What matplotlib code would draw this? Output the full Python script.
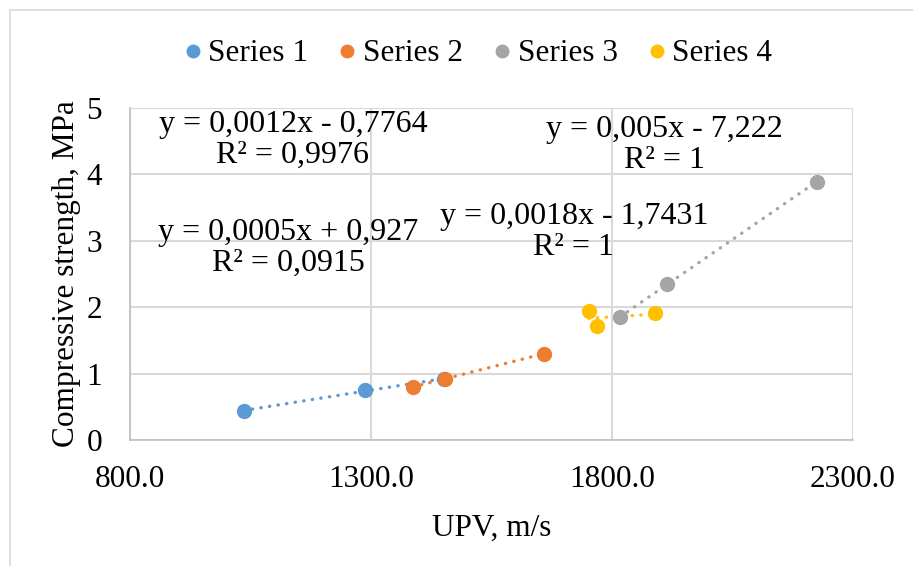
import matplotlib.pyplot as plt
from matplotlib.lines import Line2D

plt.rcParams['font.family'] = ['Liberation Serif', 'DejaVu Serif']

# UPV (m/s) vs compressive strength (MPa)
s1_x = [1036, 1288, 1452]
s1_y = [0.44, 0.75, 0.92]
s2_x = [1387, 1453, 1659]
s2_y = [0.80, 0.92, 1.30]
s3_x = [1817, 1914, 2225]
s3_y = [1.85, 2.35, 3.89]
s4_x = [1752, 1769, 1889]
s4_y = [1.94, 1.72, 1.91]

names = ['Series 1', 'Series 2', 'Series 3', 'Series 4']
colors = ['#5B9BD5', '#ED7D31', '#A5A5A5', '#FFC000']

# trendline equations as printed on the chart
eq_text = ['y = 0,0012x - 0,7764\nR² = 0,9976',
           'y = 0,0018x - 1,7431\nR² = 1',
           'y = 0,005x - 7,222\nR² = 1',
           'y = 0,0005x + 0,927\nR² = 0,0915']
eq_pos = [(1138, 4.52), (1721, 3.13), (1908, 4.44), (1128, 2.89)]

fig = plt.figure(figsize=(9.13, 5.66), dpi=100)
ax = fig.add_axes([0.1424, 0.2226, 0.7919, 0.5866])

data = [(s1_x, s1_y), (s2_x, s2_y), (s3_x, s3_y), (s4_x, s4_y)]
for (xs, ys), c, n in zip(data, colors, names):
    # linear trendline over the range of the series
    n_pts = len(xs)
    mx = sum(xs) / n_pts
    my = sum(ys) / n_pts
    b = sum((a - mx) * (v - my) for a, v in zip(xs, ys)) / sum((a - mx) ** 2 for a in xs)
    a0 = my - b * mx
    x0, x1 = min(xs), max(xs)
    ax.plot([x0, x1], [a0 + b * x0, a0 + b * x1], color=c, lw=2.4,
            linestyle=(0, (0.1, 2.5)), dash_capstyle='round', zorder=2)
for (xs, ys), c, n in zip(data, colors, names):
    ax.plot(xs, ys, 'o', color=c, ms=10, label=n, zorder=3)

for t, (px, py) in zip(eq_text, eq_pos):
    ax.text(px, py, t, ha='center', va='center', fontsize=23,
            linespacing=1.1, zorder=4)

ax.set_xlim(800, 2300)
ax.set_ylim(0, 5)
ax.set_xticks([800, 1300, 1800, 2300])
ax.set_xticklabels(['800.0', '1300.0', '1800.0', '2300.0'])
ax.set_yticks([0, 1, 2, 3, 4, 5])
ax.tick_params(length=0, labelsize=22.5)
ax.tick_params(axis='x', pad=18)
ax.tick_params(axis='y', pad=20)
ax.grid(True, color='#D9D9D9', lw=1.5)
ax.set_axisbelow(True)
for side in ['top', 'right']:
    ax.spines[side].set_visible(False)
for side in ['left', 'bottom']:
    ax.spines[side].set_color('#BFBFBF')
    ax.spines[side].set_linewidth(1.2)

ax.set_xlabel('UPV, m/s', fontsize=22.5, labelpad=14)
ax.set_ylabel('Compressive strength, MPa', fontsize=22.5, labelpad=4)

fig.legend(loc='upper center', bbox_to_anchor=(0.52, 0.98), ncol=4,
           frameon=False, fontsize=22.5, handletextpad=0.0, columnspacing=0.75,
           markerscale=0.9, handlelength=1.0)

# chart area border (top and left edges)
fig.add_artist(Line2D([0.011, 1.0], [0.982, 0.982], color='#D9D9D9', lw=1.2))
fig.add_artist(Line2D([0.011, 0.011], [0.0, 0.982], color='#D9D9D9', lw=1.2))

fig.savefig('out.png', dpi=100)
